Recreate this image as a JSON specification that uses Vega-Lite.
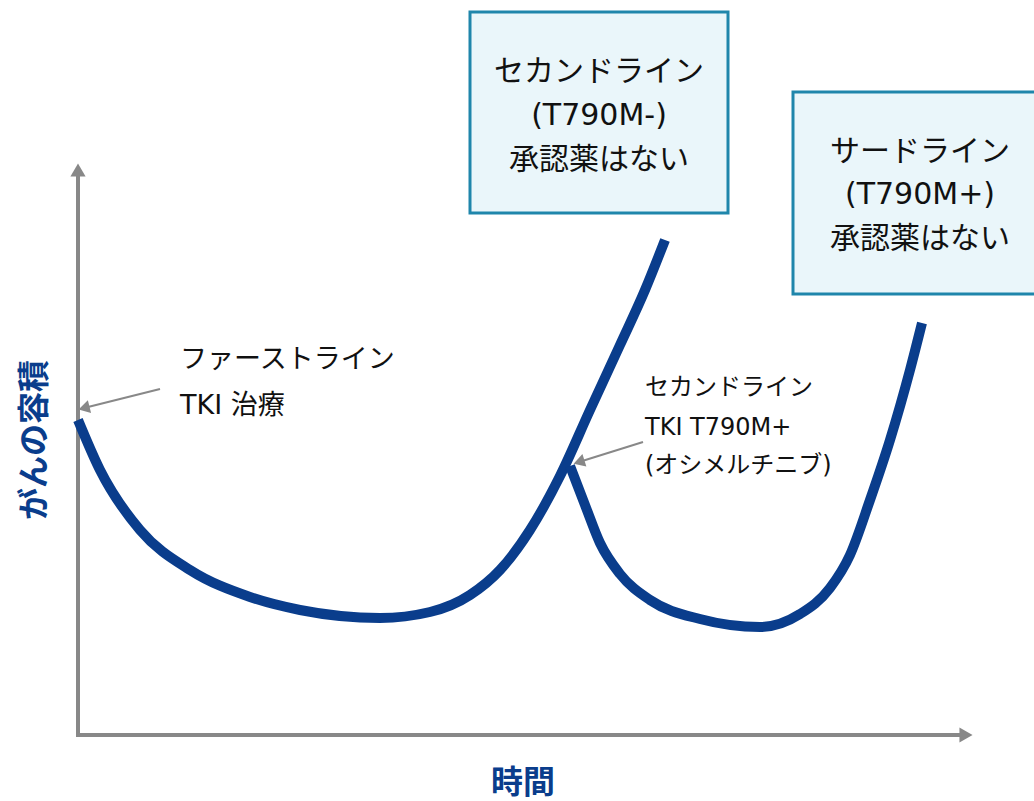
{
  "$schema": "https://vega.github.io/schema/vega-lite/v6.json",
  "width": 1034,
  "height": 801,
  "autosize": {"type": "fit", "contains": "padding"},
  "padding": 0,
  "background": "white",
  "config": {"view": {"stroke": null}, "font": "Noto Sans CJK JP"},
  "datasets": {
    "curves": [
      {"series": "first", "t": 78, "v": 420},
      {"series": "first", "t": 100, "v": 470},
      {"series": "first", "t": 140, "v": 530},
      {"series": "first", "t": 190, "v": 570},
      {"series": "first", "t": 250, "v": 597},
      {"series": "first", "t": 300, "v": 610},
      {"series": "first", "t": 380, "v": 618},
      {"series": "first", "t": 430, "v": 612},
      {"series": "first", "t": 470, "v": 595},
      {"series": "first", "t": 500, "v": 570},
      {"series": "first", "t": 530, "v": 530},
      {"series": "first", "t": 560, "v": 476},
      {"series": "first", "t": 590, "v": 410},
      {"series": "first", "t": 620, "v": 345},
      {"series": "first", "t": 645, "v": 290},
      {"series": "first", "t": 665, "v": 240},
      {"series": "second", "t": 570, "v": 466},
      {"series": "second", "t": 585, "v": 505},
      {"series": "second", "t": 600, "v": 543},
      {"series": "second", "t": 620, "v": 574},
      {"series": "second", "t": 650, "v": 600},
      {"series": "second", "t": 700, "v": 619},
      {"series": "second", "t": 760, "v": 627},
      {"series": "second", "t": 800, "v": 614},
      {"series": "second", "t": 830, "v": 588},
      {"series": "second", "t": 850, "v": 555},
      {"series": "second", "t": 870, "v": 500},
      {"series": "second", "t": 890, "v": 440},
      {"series": "second", "t": 910, "v": 370},
      {"series": "second", "t": 922, "v": 323}
    ],
    "axes": [
      {"axis": "y", "t": 78, "v": 737},
      {"axis": "y", "t": 78, "v": 170},
      {"axis": "x", "t": 76, "v": 735},
      {"axis": "x", "t": 966, "v": 735}
    ],
    "pointers": [
      {"id": "first", "t": 160, "v": 389},
      {"id": "first", "t": 84, "v": 408},
      {"id": "second", "t": 643, "v": 442},
      {"id": "second", "t": 579, "v": 462}
    ],
    "boxes": [
      {"box": "second", "t": 470, "t2": 728, "v": 12, "v2": 213},
      {"box": "third", "t": 793, "t2": 1040, "v": 92, "v2": 294}
    ],
    "texts": [
      {"group": "box", "label": "セカンドライン", "t": 599, "v": 72},
      {"group": "box", "label": "(T790M-)", "t": 599, "v": 116},
      {"group": "box", "label": "承認薬はない", "t": 599, "v": 160},
      {"group": "box", "label": "サードライン", "t": 920, "v": 152},
      {"group": "box", "label": "(T790M+)", "t": 920, "v": 195},
      {"group": "box", "label": "承認薬はない", "t": 920, "v": 239},
      {"group": "first", "label": "ファーストライン", "t": 180, "v": 360},
      {"group": "first", "label": "TKI 治療", "t": 180, "v": 406},
      {"group": "second", "label": "セカンドライン", "t": 645, "v": 388},
      {"group": "second", "label": "TKI T790M+", "t": 645, "v": 428},
      {"group": "second", "label": "(オシメルチニブ)", "t": 645, "v": 466},
      {"group": "xtitle", "label": "時間", "t": 523, "v": 783},
      {"group": "ytitle", "label": "がんの容積", "t": 35, "v": 440}
    ]
  },
  "encoding": {
    "x": {"field": "t", "type": "quantitative", "scale": {"domain": [0, 1034], "nice": false, "zero": false}, "axis": null},
    "y": {"field": "v", "type": "quantitative", "scale": {"domain": [0, 801], "nice": false, "zero": false, "reverse": true}, "axis": null}
  },
  "layer": [
    {
      "data": {"name": "boxes"},
      "mark": {"type": "rect", "fill": "#eaf6fa", "stroke": "#1f86ab", "strokeWidth": 3, "clip": true},
      "encoding": {"x2": {"field": "t2"}, "y2": {"field": "v2"}}
    },
    {
      "data": {"name": "axes"},
      "mark": {"type": "line", "stroke": "#888888", "strokeWidth": 4, "strokeCap": "butt"},
      "encoding": {"detail": {"field": "axis"}}
    },
    {
      "data": {"name": "axes"},
      "transform": [{"filter": "datum.axis === 'y' && datum.v < 300"}],
      "mark": {"type": "point", "shape": "triangle-up", "size": 230, "filled": true, "color": "#888888", "opacity": 1}
    },
    {
      "data": {"name": "axes"},
      "transform": [{"filter": "datum.axis === 'x' && datum.t > 500"}],
      "mark": {"type": "point", "shape": "triangle-right", "size": 230, "filled": true, "color": "#888888", "opacity": 1}
    },
    {
      "data": {"name": "pointers"},
      "mark": {"type": "line", "stroke": "#888888", "strokeWidth": 2},
      "encoding": {"detail": {"field": "id"}}
    },
    {
      "data": {"name": "pointers"},
      "transform": [{"filter": "datum.id === 'first' && datum.t < 100"}],
      "mark": {"type": "point", "shape": "triangle-left", "size": 170, "filled": true, "color": "#888888", "opacity": 1, "angle": 345.6}
    },
    {
      "data": {"name": "pointers"},
      "transform": [{"filter": "datum.id === 'second' && datum.t < 600"}],
      "mark": {"type": "point", "shape": "triangle-left", "size": 170, "filled": true, "color": "#888888", "opacity": 1, "angle": 342.5}
    },
    {
      "data": {"name": "curves"},
      "mark": {"type": "line", "stroke": "#0a3d8c", "strokeWidth": 10, "interpolate": "monotone", "strokeCap": "butt", "strokeJoin": "round"},
      "encoding": {"detail": {"field": "series"}}
    },
    {
      "data": {"name": "texts"},
      "transform": [{"filter": "datum.group === 'box'"}],
      "mark": {"type": "text", "font": "DejaVu Sans, Noto Sans CJK JP", "fontSize": 30, "align": "center", "baseline": "middle", "color": "#111111"},
      "encoding": {"text": {"field": "label"}}
    },
    {
      "data": {"name": "texts"},
      "transform": [{"filter": "datum.group === 'first'"}],
      "mark": {"type": "text", "font": "DejaVu Sans, Noto Sans CJK JP", "fontSize": 27, "align": "left", "baseline": "middle", "color": "#111111"},
      "encoding": {"text": {"field": "label"}}
    },
    {
      "data": {"name": "texts"},
      "transform": [{"filter": "datum.group === 'second'"}],
      "mark": {"type": "text", "font": "DejaVu Sans, Noto Sans CJK JP", "fontSize": 24, "align": "left", "baseline": "middle", "color": "#111111"},
      "encoding": {"text": {"field": "label"}}
    },
    {
      "data": {"name": "texts"},
      "transform": [{"filter": "datum.group === 'xtitle'"}],
      "mark": {"type": "text", "fontSize": 32, "fontWeight": "bold", "align": "center", "baseline": "middle", "color": "#0a3d8c"},
      "encoding": {"text": {"field": "label"}}
    },
    {
      "data": {"name": "texts"},
      "transform": [{"filter": "datum.group === 'ytitle'"}],
      "mark": {"type": "text", "fontSize": 32, "fontWeight": "bold", "align": "center", "baseline": "middle", "angle": 270, "color": "#0a3d8c"},
      "encoding": {"text": {"field": "label"}}
    }
  ]
}
